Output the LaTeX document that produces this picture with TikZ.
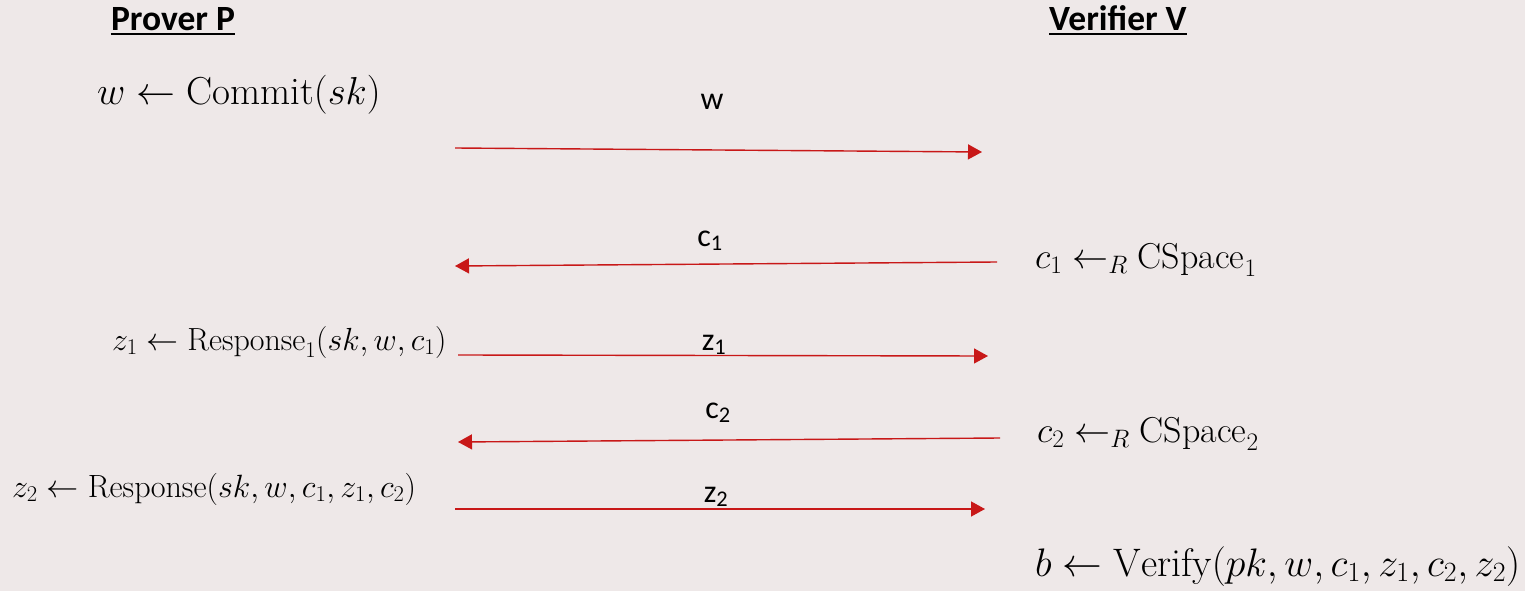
\documentclass[tikz,border=0pt]{standalone}
\usepackage{fix-cm}
\usepackage{fontspec}
\usetikzlibrary{arrows.meta}
\newfontfamily\calfont{Carlito}
\definecolor{bgc}{HTML}{EEE8E8}
\definecolor{arrowred}{HTML}{C81818}
\begin{document}
\begin{tikzpicture}[x=1pt,y=-1pt,
  hand/.style={anchor=base west, inner sep=0pt, font=\fontsize{#1}{42}\selectfont},
  hand/.default=38,
  msg/.style={draw=arrowred, line width=1.4pt, -{Triangle[length=14pt,width=15pt]}},
  lbl/.style={font=\calfont\fontsize{32}{36}\selectfont, inner sep=0pt, anchor=base},
  head/.style={font=\calfont\bfseries\fontsize{35.5}{40}\selectfont, inner sep=0pt, anchor=base},
  uline/.style={line width=2pt}]
\fill[bgc] (0,0) rectangle (1525,591);
\useasboundingbox (0,0) rectangle (1525,591);

% headers
\node[head] (pp) at (173,31) {Prover P};
\node[head] (vv) at (1118,31) {Verifier V};
\draw[uline] ([yshift=-3.5pt]pp.base west) -- ([yshift=-3.5pt]pp.base east);
\draw[uline] ([yshift=-3.5pt]vv.base west) -- ([yshift=-3.5pt]vv.base east);

% prover side
\node[hand=39] (commit) at (97,105) {$w \leftarrow \mathrm{Commit}(sk)$};
\node[hand=32] (resp1) at (112,350) {$z_1 \leftarrow \mathrm{Response}_1(sk,w,c_1)$};
\node[hand=32.2] (resp2) at (12,497) {$z_2 \leftarrow \mathrm{Response}(sk,w,c_1,z_1,c_2)$};

% verifier side
\node[hand=36] (ch1) at (1035,268) {$c_1 \leftarrow_R \mathrm{CSpace}_1$};
\node[hand=36] (ch2) at (1037,442) {$c_2 \leftarrow_R \mathrm{CSpace}_2$};
\node[hand=39.8] (ver) at (1035,576) {$b \leftarrow \mathrm{Verify}(pk,w,c_1,z_1,c_2,z_2)$};

% message end points
\coordinate (m1a) at (455,148);
\coordinate (m1b) at (982,152);
\coordinate (m2a) at (997,262);
\coordinate (m2b) at (455,266);
\coordinate (m3a) at (458,355);
\coordinate (m3b) at (988,356);
\coordinate (m4a) at (1000,438);
\coordinate (m4b) at (458,442);
\coordinate (m5a) at (455,509);
\coordinate (m5b) at (985,509);

\draw[msg] (m1a) -- (m1b);
\draw[msg] (m2a) -- (m2b);
\draw[msg] (m3a) -- (m3b);
\draw[msg] (m4a) -- (m4b);
\draw[msg] (m5a) -- (m5b);

% message labels
\node[lbl] (lw) at (712,110) {w};
\node[lbl] (lc1) at (710,246) {c\textsubscript{1}};
\node[lbl] (lz1) at (714,350) {z\textsubscript{1}};
\node[lbl] (lc2) at (718,418) {c\textsubscript{2}};
\node[lbl] (lz2) at (716,502) {z\textsubscript{2}};
\end{tikzpicture}
\end{document}
